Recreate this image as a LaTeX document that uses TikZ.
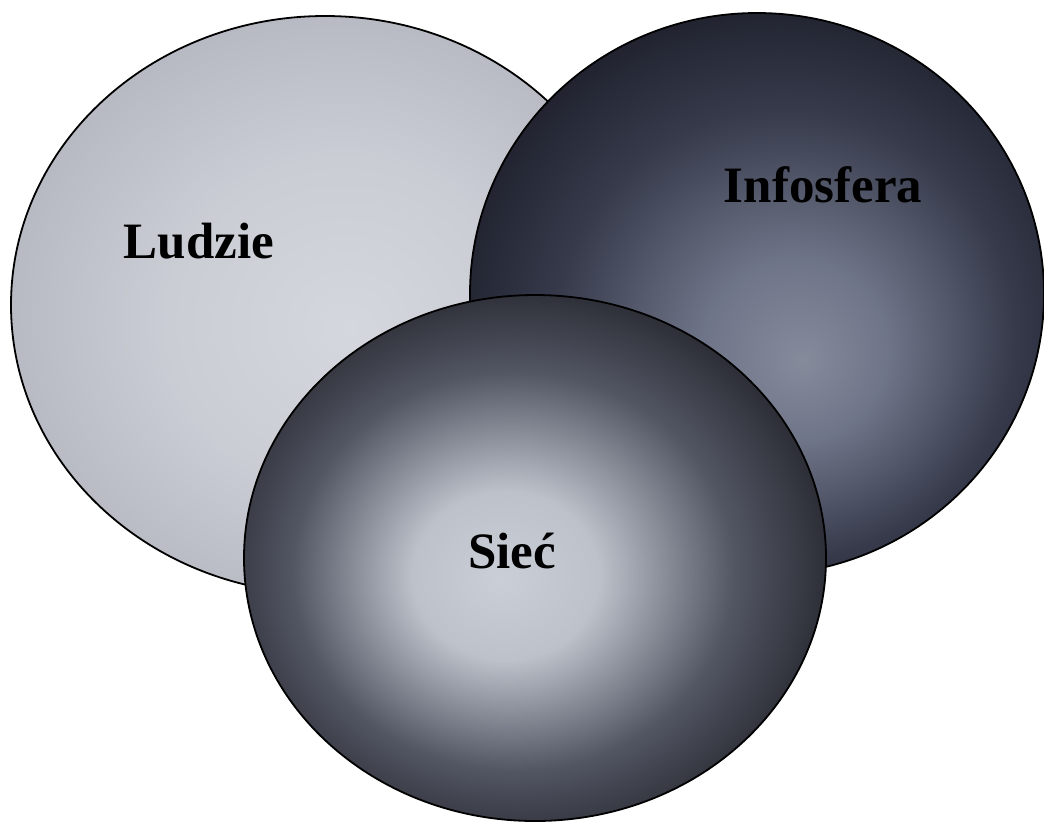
\documentclass[tikz,border=0pt]{standalone}
\usepackage{fontspec}
\setmainfont{Liberation Serif}
\definecolor{ludzieA}{HTML}{D4D7DD}
\definecolor{ludzieB}{HTML}{CACDD4}
\definecolor{ludzieC}{HTML}{B4B7C0}
\definecolor{ludzieD}{HTML}{A2A5AF}
\definecolor{infoA}{HTML}{858B9B}
\definecolor{infoB}{HTML}{6F7588}
\definecolor{infoC}{HTML}{363A4B}
\definecolor{infoD}{HTML}{1C1E29}
\definecolor{siecA}{HTML}{CACED7}
\definecolor{siecB}{HTML}{BDC1CA}
\definecolor{siecC}{HTML}{525663}
\definecolor{siecD}{HTML}{212229}
\pgfdeclareradialshading{ludzieshade}{\pgfpoint{2bp}{-2bp}}{%
  color(0bp)=(ludzieA); color(14bp)=(ludzieB); color(28bp)=(ludzieC); color(35bp)=(ludzieD); color(50bp)=(ludzieD)}
\pgfdeclareradialshading{infoshade}{\pgfpoint{4bp}{-6bp}}{%
  color(0bp)=(infoA); color(8bp)=(infoB); color(20bp)=(infoC); color(30bp)=(infoD); color(50bp)=(infoD)}
\pgfdeclareradialshading{siecshade}{\pgfpoint{-3bp}{-2bp}}{%
  color(0bp)=(siecA); color(8bp)=(siecB); color(19bp)=(siecC); color(29bp)=(siecD); color(50bp)=(siecD)}
\tikzset{
  disc/.style={draw=black,line width=0.9pt,shade},
  disctext/.style={font=\bfseries\fontsize{25.5}{30}\selectfont,anchor=base,inner sep=0pt,text=black}
}
\begin{document}
\begin{tikzpicture}[x=0.5pt,y=-0.5pt]
  \useasboundingbox (0,0) rectangle (1044,827);
  \path[disc,shading=ludzieshade] (325,305) ellipse [x radius=314,y radius=289];
  \path[disc,shading=infoshade] (757,294) ellipse [x radius=287,y radius=281];
  \path[disc,shading=siecshade] (535,558) ellipse [x radius=291,y radius=263];
  \node[disctext] (ludzie) at (199,258) {Ludzie};
  \node[disctext] (infosfera) at (823,202) {Infosfera};
  \node[disctext] (siec) at (512,568) {Sieć};
\end{tikzpicture}
\end{document}
